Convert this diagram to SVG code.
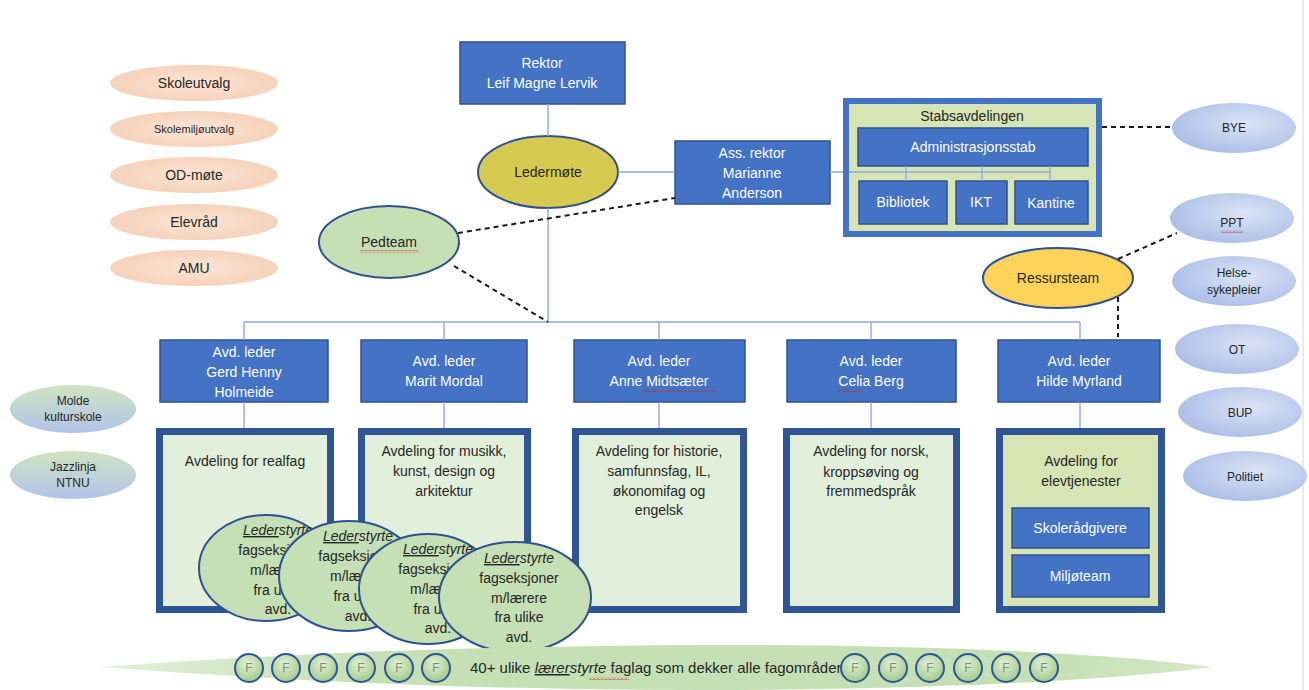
<svg xmlns="http://www.w3.org/2000/svg" width="1309" height="690" viewBox="0 0 1309 690">
<defs>
<style>
.t{font-family:"Liberation Sans",Arial,sans-serif;font-size:14px;fill:#262626;text-anchor:middle}
.w{fill:#ffffff}
.bb{fill:#4472c4;stroke:#2f528f;stroke-width:1.5}
.dept{fill:#e2efda;stroke:#2f5597;stroke-width:7}
.tree{stroke:#8faadc;stroke-width:1.4;fill:none}
.dash{stroke:#1a1a1a;stroke-width:2;stroke-dasharray:5 4;fill:none}
.led{fill:#c5e0b4;stroke:#2f528f;stroke-width:2}
.peach{fill:url(#gPeach)}
.blue{fill:url(#gBlue)}
.gb{fill:url(#gGB)}
.fc{fill:url(#gF);stroke:#2f5597;stroke-width:2}
.ft{font-family:"Liberation Sans",Arial,sans-serif;font-size:12px;fill:#7f8f70;text-anchor:middle}
.sp{fill:url(#wavy)}
</style>
<radialGradient id="gPeach" cx="0.5" cy="0.5" r="0.6">
<stop offset="0" stop-color="#fbe4d5"/><stop offset="1" stop-color="#f5cfb6"/>
</radialGradient>
<radialGradient id="gBlue" cx="0.6" cy="0.4" r="0.7">
<stop offset="0" stop-color="#dbe4f6"/><stop offset="1" stop-color="#a7bbe6"/>
</radialGradient>
<linearGradient id="gGB" x1="0" y1="0" x2="0" y2="1">
<stop offset="0" stop-color="#cfe4c0"/><stop offset="1" stop-color="#b1c3ea"/>
</linearGradient>
<radialGradient id="gF" cx="0.45" cy="0.35" r="0.7">
<stop offset="0" stop-color="#e2f0d8"/><stop offset="1" stop-color="#9cc883"/>
</radialGradient>
<linearGradient id="gLeaf" x1="0" y1="0" x2="1" y2="0">
<stop offset="0" stop-color="#e3f0da"/><stop offset="0.25" stop-color="#c5e0b4"/><stop offset="0.85" stop-color="#c5e0b4"/><stop offset="1" stop-color="#d4e8c7"/>
</linearGradient>
<pattern id="wavy" width="4" height="3" patternUnits="userSpaceOnUse">
<path d="M0 2.5 L2 0.5 L4 2.5" stroke="#d02020" stroke-width="0.8" fill="none"/>
</pattern>
</defs>
<rect x="0" y="0" width="1309" height="690" fill="#ffffff"/>
<line x1="1303" y1="0" x2="1303" y2="690" stroke="#e4e4e4" stroke-width="1.5"/>

<!-- left peach ellipses -->
<g id="skoleutvalg"><ellipse class="peach" cx="194" cy="83" rx="84" ry="18"/><text class="t" x="194" y="88">Skoleutvalg</text></g>
<g id="skolemiljoutvalg"><ellipse class="peach" cx="194" cy="129" rx="84" ry="18"/><text class="t" x="194" y="133" style="font-size:11px">Skolemiljøutvalg</text></g>
<g id="odmote"><ellipse class="peach" cx="194" cy="175" rx="84" ry="18"/><text class="t" x="194" y="180">OD-møte</text></g>
<g id="elevrad"><ellipse class="peach" cx="194" cy="222" rx="84" ry="18"/><text class="t" x="194" y="227">Elevråd</text></g>
<g id="amu"><ellipse class="peach" cx="194" cy="268" rx="84" ry="18"/><text class="t" x="194" y="273">AMU</text></g>

<!-- left external -->
<g id="molde"><ellipse class="gb" cx="73" cy="409" rx="63" ry="24"/><text class="t" style="font-size:12px" x="73" y="405">Molde</text><text class="t" style="font-size:12px" x="73" y="421">kulturskole</text></g>
<g id="jazz"><ellipse class="gb" cx="73" cy="475" rx="63" ry="24"/><text class="t" style="font-size:12px" x="73" y="471">Jazzlinja</text><text class="t" style="font-size:12px" x="73" y="487">NTNU</text></g>

<!-- top -->
<g id="rektor"><rect class="bb" x="460" y="42" width="165" height="62"/><text class="t w" x="542" y="68">Rektor</text><text class="t w" x="542" y="88">Leif Magne Lervik</text></g>
<g id="ledermote"><ellipse cx="548" cy="172" rx="70" ry="36" fill="#d6ca50" stroke="#2f528f" stroke-width="2"/><text class="t" x="548" y="177">Ledermøte</text></g>
<g id="assrektor"><rect class="bb" x="675" y="141" width="155" height="63"/><text class="t w" x="752" y="158">Ass. rektor</text><text class="t w" x="752" y="178">Marianne</text><text class="t w" x="752" y="198">Anderson</text></g>
<g id="pedteam"><ellipse cx="389" cy="242" rx="70" ry="36" fill="#c5e0b4" stroke="#2f528f" stroke-width="2"/><text class="t" x="389" y="247">Pedteam</text><rect class="sp" x="360" y="250" width="59" height="3"/></g>

<!-- stab -->
<g id="stab">
<rect x="846" y="101" width="253" height="133" fill="#d7e4b4" stroke="#4472c4" stroke-width="6"/>
<text class="t" x="972" y="121">Stabsavdelingen</text>
<rect class="bb" x="858" y="128" width="230" height="38"/><text class="t w" x="973" y="152">Administrasjonsstab</text>
<rect class="bb" x="859" y="181" width="88" height="43"/><text class="t w" x="903" y="207">Bibliotek</text>
<rect class="bb" x="956" y="181" width="51" height="43"/><text class="t w" x="981" y="207">IKT</text>
<rect class="bb" x="1015" y="181" width="73" height="43"/><text class="t w" x="1051" y="208">Kantine</text>
</g>

<!-- right external -->
<g id="bye"><ellipse class="blue" cx="1234" cy="128" rx="62" ry="25"/><text class="t" style="font-size:12px" x="1234" y="132">BYE</text></g>
<g id="ppt"><ellipse class="blue" cx="1232" cy="218" rx="62" ry="25"/><text class="t" style="font-size:12px" x="1232" y="227">PPT</text><rect class="sp" x="1221" y="230" width="22" height="3"/></g>
<g id="helse"><ellipse class="blue" cx="1234" cy="281" rx="62" ry="25"/><text class="t" style="font-size:12px" x="1234" y="277">Helse-</text><text class="t" style="font-size:12px" x="1234" y="294">sykepleier</text></g>
<g id="ot"><ellipse class="blue" cx="1237" cy="349" rx="62" ry="25"/><text class="t" style="font-size:12px" x="1237" y="354">OT</text></g>
<g id="bup"><ellipse class="blue" cx="1240" cy="412" rx="62" ry="25"/><text class="t" style="font-size:12px" x="1240" y="417">BUP</text></g>
<g id="politiet"><ellipse class="blue" cx="1245" cy="476" rx="62" ry="25"/><text class="t" style="font-size:12px" x="1245" y="481">Politiet</text></g>
<g id="ressursteam"><ellipse cx="1058" cy="278" rx="75" ry="30" fill="#fed35a" stroke="#2f528f" stroke-width="2"/><text class="t" x="1058" y="283">Ressursteam</text></g>

<!-- avd ledere -->
<g id="avd-gerd"><rect class="bb" x="160" y="340" width="168" height="62"/><text class="t w" x="244" y="357">Avd. leder</text><text class="t w" x="244" y="377">Gerd Henny</text><text class="t w" x="244" y="397">Holmeide</text></g>
<g id="avd-marit"><rect class="bb" x="361" y="340" width="166" height="62"/><text class="t w" x="444" y="366">Avd. leder</text><text class="t w" x="444" y="386">Marit Mordal</text></g>
<g id="avd-anne"><rect class="bb" x="574" y="340" width="171" height="62"/><text class="t w" x="659" y="366">Avd. leder</text><text class="t w" x="659" y="386">Anne Midtsæter</text><rect class="sp" x="644" y="389" width="71" height="3"/></g>
<g id="avd-celia"><rect class="bb" x="787" y="340" width="169" height="62"/><text class="t w" x="871" y="366">Avd. leder</text><text class="t w" x="871" y="386">Celia Berg</text><rect class="sp" x="838" y="389" width="25" height="3"/></g>
<g id="avd-hilde"><rect class="bb" x="998" y="340" width="162" height="62"/><text class="t w" x="1079" y="366">Avd. leder</text><text class="t w" x="1079" y="386">Hilde Myrland</text></g>

<!-- departments -->
<g id="dept-realfag"><rect class="dept" x="159.5" y="431.5" width="171" height="178"/><text class="t" x="245" y="466">Avdeling for realfag</text></g>
<g id="dept-musikk"><rect class="dept" x="361.5" y="431.5" width="166" height="178"/><text class="t" x="444" y="456">Avdeling for musikk,</text><text class="t" x="444" y="476">kunst, design og</text><text class="t" x="444" y="496">arkitektur</text></g>
<g id="dept-historie"><rect class="dept" x="575.5" y="431.5" width="168" height="178"/><text class="t" x="659" y="456">Avdeling for historie,</text><text class="t" x="659" y="476">samfunnsfag, IL,</text><text class="t" x="659" y="496">økonomifag og</text><text class="t" x="659" y="515">engelsk</text></g>
<g id="dept-norsk"><rect class="dept" x="786.5" y="431.5" width="170" height="178"/><text class="t" x="871" y="456">Avdeling for norsk,</text><text class="t" x="871" y="477">kroppsøving og</text><text class="t" x="871" y="496">fremmedspråk</text></g>
<g id="dept-elev"><rect class="dept" x="999.5" y="431.5" width="162" height="178" style="fill:#d7e4b4"/><text class="t" x="1081" y="466">Avdeling for</text><text class="t" x="1081" y="486">elevtjenester</text>
<rect class="bb" x="1012" y="508" width="137" height="40"/><text class="t w" x="1080" y="533">Skolerådgivere</text>
<rect class="bb" x="1012" y="555" width="137" height="42"/><text class="t w" x="1080" y="581">Miljøteam</text></g>

<!-- lederstyrte fagseksjoner -->
<g id="fagseksjon1"><ellipse class="led" cx="266" cy="568" rx="67" ry="53"/>
<text class="t" x="278" y="535"><tspan font-style="italic" text-decoration="underline">Leder</tspan><tspan font-style="italic">styrte</tspan></text><text class="t" x="278" y="555">fagseksjoner</text><text class="t" x="278" y="575">m/lærere</text><text class="t" x="278" y="595">fra ulike</text><text class="t" x="278" y="614">avd.</text></g>
<g id="fagseksjon2"><ellipse class="led" cx="349" cy="576" rx="70" ry="55"/>
<text class="t" x="358" y="541"><tspan font-style="italic" text-decoration="underline">Leder</tspan><tspan font-style="italic">styrte</tspan></text><text class="t" x="358" y="561">fagseksjoner</text><text class="t" x="358" y="581">m/lærere</text><text class="t" x="358" y="601">fra ulike</text><text class="t" x="358" y="621">avd.</text></g>
<g id="fagseksjon3"><ellipse class="led" cx="428" cy="589" rx="69" ry="55"/>
<text class="t" x="438" y="554"><tspan font-style="italic" text-decoration="underline">Leder</tspan><tspan font-style="italic">styrte</tspan></text><text class="t" x="438" y="574">fagseksjoner</text><text class="t" x="438" y="594">m/lærere</text><text class="t" x="438" y="614">fra ulike</text><text class="t" x="438" y="633">avd.</text></g>
<g id="fagseksjon4"><ellipse class="led" cx="515" cy="597" rx="76" ry="55"/>
<text class="t" x="519" y="563"><tspan font-style="italic" text-decoration="underline">Leder</tspan><tspan font-style="italic">styrte</tspan></text><text class="t" x="519" y="583">fagseksjoner</text><text class="t" x="519" y="603">m/lærere</text><text class="t" x="519" y="622">fra ulike</text><text class="t" x="519" y="642">avd.</text></g>

<!-- faglag band -->
<g id="faglag">
<path d="M100 667 C 300 652 500 646 700 645 C 900 644 1100 652 1212 667 C 1100 682 900 690 700 690 C 500 690 300 682 100 667 Z" fill="url(#gLeaf)"/>
<circle class="fc" cx="249" cy="668" r="14"/><text class="ft" x="249" y="672">F</text>
<circle class="fc" cx="286" cy="668" r="14"/><text class="ft" x="286" y="672">F</text>
<circle class="fc" cx="323" cy="668" r="14"/><text class="ft" x="323" y="672">F</text>
<circle class="fc" cx="361" cy="668" r="14"/><text class="ft" x="361" y="672">F</text>
<circle class="fc" cx="399" cy="668" r="14"/><text class="ft" x="399" y="672">F</text>
<circle class="fc" cx="436" cy="668" r="14"/><text class="ft" x="436" y="672">F</text>
<text class="t" x="470" y="673" style="text-anchor:start;font-size:15px">40+ ulike <tspan font-style="italic" text-decoration="underline">lærer</tspan><tspan font-style="italic">styrte</tspan> faglag som dekker alle fagområder</text>
<rect class="sp" x="589" y="677" width="40" height="3"/>
<circle class="fc" cx="855" cy="668" r="14"/><text class="ft" x="855" y="672">F</text>
<circle class="fc" cx="893" cy="668" r="14"/><text class="ft" x="893" y="672">F</text>
<circle class="fc" cx="930" cy="668" r="14"/><text class="ft" x="930" y="672">F</text>
<circle class="fc" cx="968" cy="668" r="14"/><text class="ft" x="968" y="672">F</text>
<circle class="fc" cx="1006" cy="668" r="14"/><text class="ft" x="1006" y="672">F</text>
<circle class="fc" cx="1044" cy="668" r="14"/><text class="ft" x="1044" y="672">F</text>
</g>

<!-- connectors -->
<g id="connectors">
<path class="tree" d="M548 104 V136 M548 208 V322 M244 322 H1080 M244 322 V340 M444 322 V340 M659 322 V340 M871 322 V340 M1080 322 V340"/>
<path class="tree" d="M618 172 H675 M830 172 H843 M849 172 H1050 M906 166 V181 M982 166 V181 M1050 166 V181"/>
<path class="tree" d="M244 402 V428 M444 402 V428 M659 402 V428 M871 402 V428 M1080 402 V428"/>
<path class="dash" d="M458 233 L675 198"/>
<path class="dash" d="M454 266 L548 322"/>
<path class="dash" d="M1102 127 H1172"/>
<path class="dash" d="M1118 259 L1177 233"/>
<path class="dash" d="M1118 297 V337"/>
</g>
</svg>
